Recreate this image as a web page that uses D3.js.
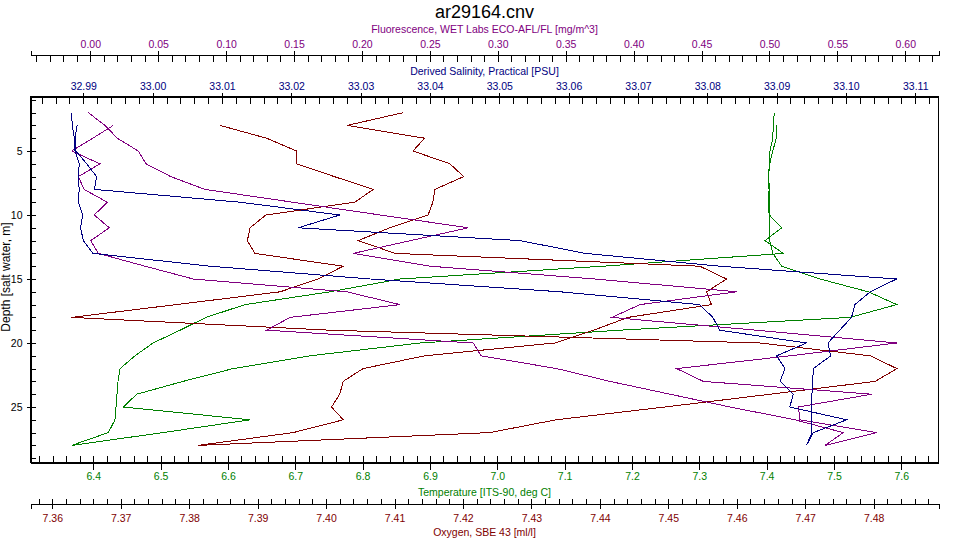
<!DOCTYPE html>
<html>
<head>
<meta charset="utf-8">
<script src="https://cdn.jsdelivr.net/npm/d3@7"></script>
<style>
body { margin: 0; background: #fff; }
text { font-family: "Liberation Sans", Arial, sans-serif; }
</style>
</head>
<body>
<script>
// profondeur de chaque point : descente 2 -> 28 m puis remontée 27 -> 3 m
const depth = [2, 3, 4, 5, 6, 7, 8, 9, 10, 11, 12, 13, 14, 15, 16, 17, 18, 19, 20, 21, 22, 23, 24, 25, 26, 27, 28,
    27, 26, 25, 24, 23, 22, 21, 20, 19, 18, 17, 16, 15, 14, 13, 12, 11, 10, 9, 8, 7, 6, 5, 4, 3];

const salinity = [32.9883, 32.9884, 32.9887, 32.9888, 32.9894, 32.9893, 32.9894, 32.9893, 32.9899, 32.9896, 32.9900, 32.9914,
    33.0083, 33.0314, 33.0588, 33.0789, 33.0808, 33.0818, 33.0943, 33.0900, 33.0912, 33.0905, 33.0924, 33.0919, 33.1001, 33.0953, 33.0943,
    33.0951, 33.0951, 33.0951, 33.0951, 33.0952, 33.0953, 33.0978, 33.0974, 33.0991, 33.1008, 33.1013, 33.1035, 33.1073, 33.0818,
    33.0624, 33.0530, 33.0210, 33.0270, 33.0126, 32.9916, 32.9919, 32.9905, 32.9889, 32.9888, 32.9891];

const fluorescence = [-0.0015, 0.0108, 0.0199, 0.0353, 0.0410, 0.0592, 0.0844, 0.1490, 0.2135, 0.2783, 0.2357, 0.1936,
    0.2501, 0.3716, 0.4759, 0.4047, 0.3839, 0.4901, 0.5937, 0.5151, 0.4317, 0.4513, 0.5753, 0.5212, 0.5225, 0.5790, 0.5409,
    0.5544, 0.5188, 0.4710, 0.4268, 0.3826, 0.3434, 0.2876, 0.2820, 0.1299, 0.1470, 0.2280, 0.1888, 0.0758, 0.0403,
    0.0059, 0.0003, 0.0140, 0.0029, 0.0125, -0.0046, -0.0088, 0.0071, -0.0137, 0.0018, 0.0169];

const temperature = [7.4114, 7.4099, 7.4091, 7.4050, 7.4040, 7.4031, 7.4040, 7.4036, 7.4040, 7.4224, 7.3976, 7.4248,
    7.1570, 6.8555, 6.7516, 6.6253, 6.5674, 6.5288, 6.4887, 6.4619, 6.4397, 6.4367, 6.4352, 6.4337, 6.4322, 6.4223, 6.3679,
    6.5035, 6.6327, 6.4446, 6.4645, 6.5332, 6.6075, 6.7218, 6.8852, 7.1823, 7.5239, 7.5932, 7.5510, 7.4793, 7.4224,
    7.4091, 7.4046, 7.4040, 7.4036, 7.4031, 7.4036, 7.4021, 7.4046, 7.4091, 7.4144, 7.4150];

const oxygen = [7.4113, 7.4031, 7.4144, 7.4127, 7.4181, 7.4201, 7.4159, 7.4156, 7.4149, 7.4093, 7.4047, 7.4101,
    7.4546, 7.4585, 7.4556, 7.4563, 7.4441, 7.4391, 7.4334, 7.4144, 7.4054, 7.4025, 7.4020, 7.4008, 7.4025, 7.3952, 7.3813,
    7.4239, 7.4336, 7.4495, 7.4649, 7.4802, 7.4834, 7.4795, 7.4634, 7.4006, 7.3628, 7.3781, 7.3933, 7.3988, 7.4025,
    7.3896, 7.3885, 7.3889, 7.3912, 7.4042, 7.4069, 7.4012, 7.3957, 7.3957, 7.3913, 7.3845];

// étendue des axes
const depthRange = [0.742, 29.336];
const salinityRange = [32.98238, 33.11335];
const fluoRange = [-0.04403, 0.62444];
const tempRange = [6.30673, 7.65525];
const oxyRange = [7.35682, 7.48947];

// graduations
const depthTicks = [5, 10, 15, 20, 25];
const salinityTicks = [32.99, 33.00, 33.01, 33.02, 33.03, 33.04, 33.05, 33.06, 33.07, 33.08, 33.09, 33.10, 33.11];
const fluoTicks = [0.00, 0.05, 0.10, 0.15, 0.20, 0.25, 0.30, 0.35, 0.40, 0.45, 0.50, 0.55, 0.60];
const tempTicks = [6.4, 6.5, 6.6, 6.7, 6.8, 6.9, 7.0, 7.1, 7.2, 7.3, 7.4, 7.5, 7.6];
const oxyTicks = [7.36, 7.37, 7.38, 7.39, 7.40, 7.41, 7.42, 7.43, 7.44, 7.45, 7.46, 7.47, 7.48];

const colSal = "#000080", colFluo = "#800080", colTemp = "#008000", colOxy = "#800000";

let width = 960, height = 540;
let plotLeft = 30.5, plotRight = 938.5, plotTop = 96.5, plotBottom = 462.5;
let cx = (plotLeft + plotRight) / 2;

let svg = d3.select("body")
    .append("svg")
    .attr("width", width)
    .attr("height", height);

let y = d3.scaleLinear().domain(depthRange).range([plotTop, plotBottom]);
let xSal = d3.scaleLinear().domain(salinityRange).range([plotLeft, plotRight]);
let xFluo = d3.scaleLinear().domain(fluoRange).range([plotLeft, plotRight]);
let xTemp = d3.scaleLinear().domain(tempRange).range([plotLeft, plotRight]);
let xOxy = d3.scaleLinear().domain(oxyRange).range([plotLeft, plotRight]);

function minors(range, step) {
    let a = Math.ceil(range[0] / step - 1e-6), b = Math.floor(range[1] / step + 1e-6);
    return d3.range(a, b + 1).map(i => i * step);
}

function styleAxis(g, color) {
    g.attr("font-size", 10.5)
        .attr("font-family", '"Liberation Sans", Arial, sans-serif')
        .style("shape-rendering", "crispEdges");
    g.selectAll("path, line").attr("stroke", "#000");
    g.selectAll("text").attr("fill", color);
}

// cadre
svg.append("rect")
    .attr("x", plotLeft).attr("y", plotTop)
    .attr("width", plotRight - plotLeft).attr("height", plotBottom - plotTop)
    .attr("fill", "none").attr("stroke", "#000")
    .style("shape-rendering", "crispEdges");

// axe fluorescence (en haut)
svg.append("g").attr("transform", "translate(0,54.5)")
    .call(d3.axisBottom(xFluo).tickValues(minors(fluoRange, 0.01)).tickSize(7).tickSizeOuter(0).tickFormat(""))
    .call(g => styleAxis(g, colFluo));
svg.append("g").attr("transform", "translate(0,54.5)")
    .call(d3.axisTop(xFluo).tickValues(fluoTicks).tickSize(4).tickSizeOuter(4).tickPadding(3).tickFormat(d3.format(".2f")))
    .call(g => styleAxis(g, colFluo));

// axe salinité (bord haut du cadre)
svg.append("g").attr("transform", "translate(0," + plotTop + ")")
    .call(d3.axisBottom(xSal).tickValues(minors(salinityRange, 0.002)).tickSize(7).tickSizeOuter(0).tickFormat(""))
    .call(g => styleAxis(g, colSal));
svg.append("g").attr("transform", "translate(0," + plotTop + ")")
    .call(d3.axisTop(xSal).tickValues(salinityTicks).tickSize(4).tickSizeOuter(0).tickPadding(3).tickFormat(d3.format(".2f")))
    .call(g => styleAxis(g, colSal));

// axe température (bord bas du cadre)
svg.append("g").attr("transform", "translate(0," + plotBottom + ")")
    .call(d3.axisTop(xTemp).tickValues(minors(tempRange, 0.02)).tickSize(7).tickSizeOuter(0).tickFormat(""))
    .call(g => styleAxis(g, colTemp));
svg.append("g").attr("transform", "translate(0," + plotBottom + ")")
    .call(d3.axisBottom(xTemp).tickValues(tempTicks).tickSize(7).tickSizeOuter(0).tickPadding(3).tickFormat(d3.format(".1f")))
    .call(g => styleAxis(g, colTemp));

// axe oxygène
svg.append("g").attr("transform", "translate(0,503.5)")
    .call(d3.axisTop(xOxy).tickValues(minors(oxyRange, 0.002)).tickSize(5).tickSizeOuter(0).tickFormat(""))
    .call(g => styleAxis(g, colOxy));
svg.append("g").attr("transform", "translate(0,503.5)")
    .call(d3.axisBottom(xOxy).tickValues(oxyTicks).tickSize(5).tickSizeOuter(5).tickPadding(6.5).tickFormat(d3.format(".2f")))
    .call(g => styleAxis(g, colOxy));

// axe profondeur
svg.append("g").attr("transform", "translate(" + plotLeft + ",0)")
    .call(d3.axisRight(y).tickValues(d3.range(1, 30)).tickSize(5).tickSizeOuter(0).tickFormat(""))
    .call(g => styleAxis(g, "#000"));
svg.append("g").attr("transform", "translate(" + plotLeft + ",0)")
    .call(d3.axisLeft(y).tickValues(depthTicks).tickSize(4).tickSizeOuter(0).tickPadding(4).tickFormat(d3.format("d")))
    .call(g => styleAxis(g, "#000"));

// titres
svg.append("text").text("ar29164.cnv")
    .attr("x", cx).attr("y", 18).attr("text-anchor", "middle")
    .style("font-size", "18px").attr("fill", "#000");

let titles = [
    ["Fluorescence, WET Labs ECO-AFL/FL [mg/m^3]", 33, colFluo],
    ["Derived Salinity, Practical [PSU]", 74.5, colSal],
    ["Temperature [ITS-90, deg C]", 495.5, colTemp],
    ["Oxygen, SBE 43 [ml/l]", 535.5, colOxy]
];
titles.forEach(t => {
    svg.append("text").text(t[0])
        .attr("x", cx).attr("y", t[1]).attr("text-anchor", "middle")
        .style("font-size", "10.5px").attr("fill", t[2]);
});

svg.append("text").text("Depth [salt water, m]")
    .attr("transform", "translate(9.5,277) rotate(-90)")
    .attr("text-anchor", "middle")
    .style("font-size", "12px").attr("fill", "#000");

// profils
let series = [
    [temperature, xTemp, colTemp],
    [oxygen, xOxy, colOxy],
    [fluorescence, xFluo, colFluo],
    [salinity, xSal, colSal]
];

series.forEach(s => {
    let line = d3.line()
        .x((d, i) => s[1](s[0][i]))
        .y(d => y(d));
    svg.append("path")
        .datum(depth)
        .attr("d", line)
        .attr("fill", "none")
        .attr("stroke", s[2])
        .attr("stroke-width", 1)
        .style("shape-rendering", "crispEdges");
});
</script>
</body>
</html>
